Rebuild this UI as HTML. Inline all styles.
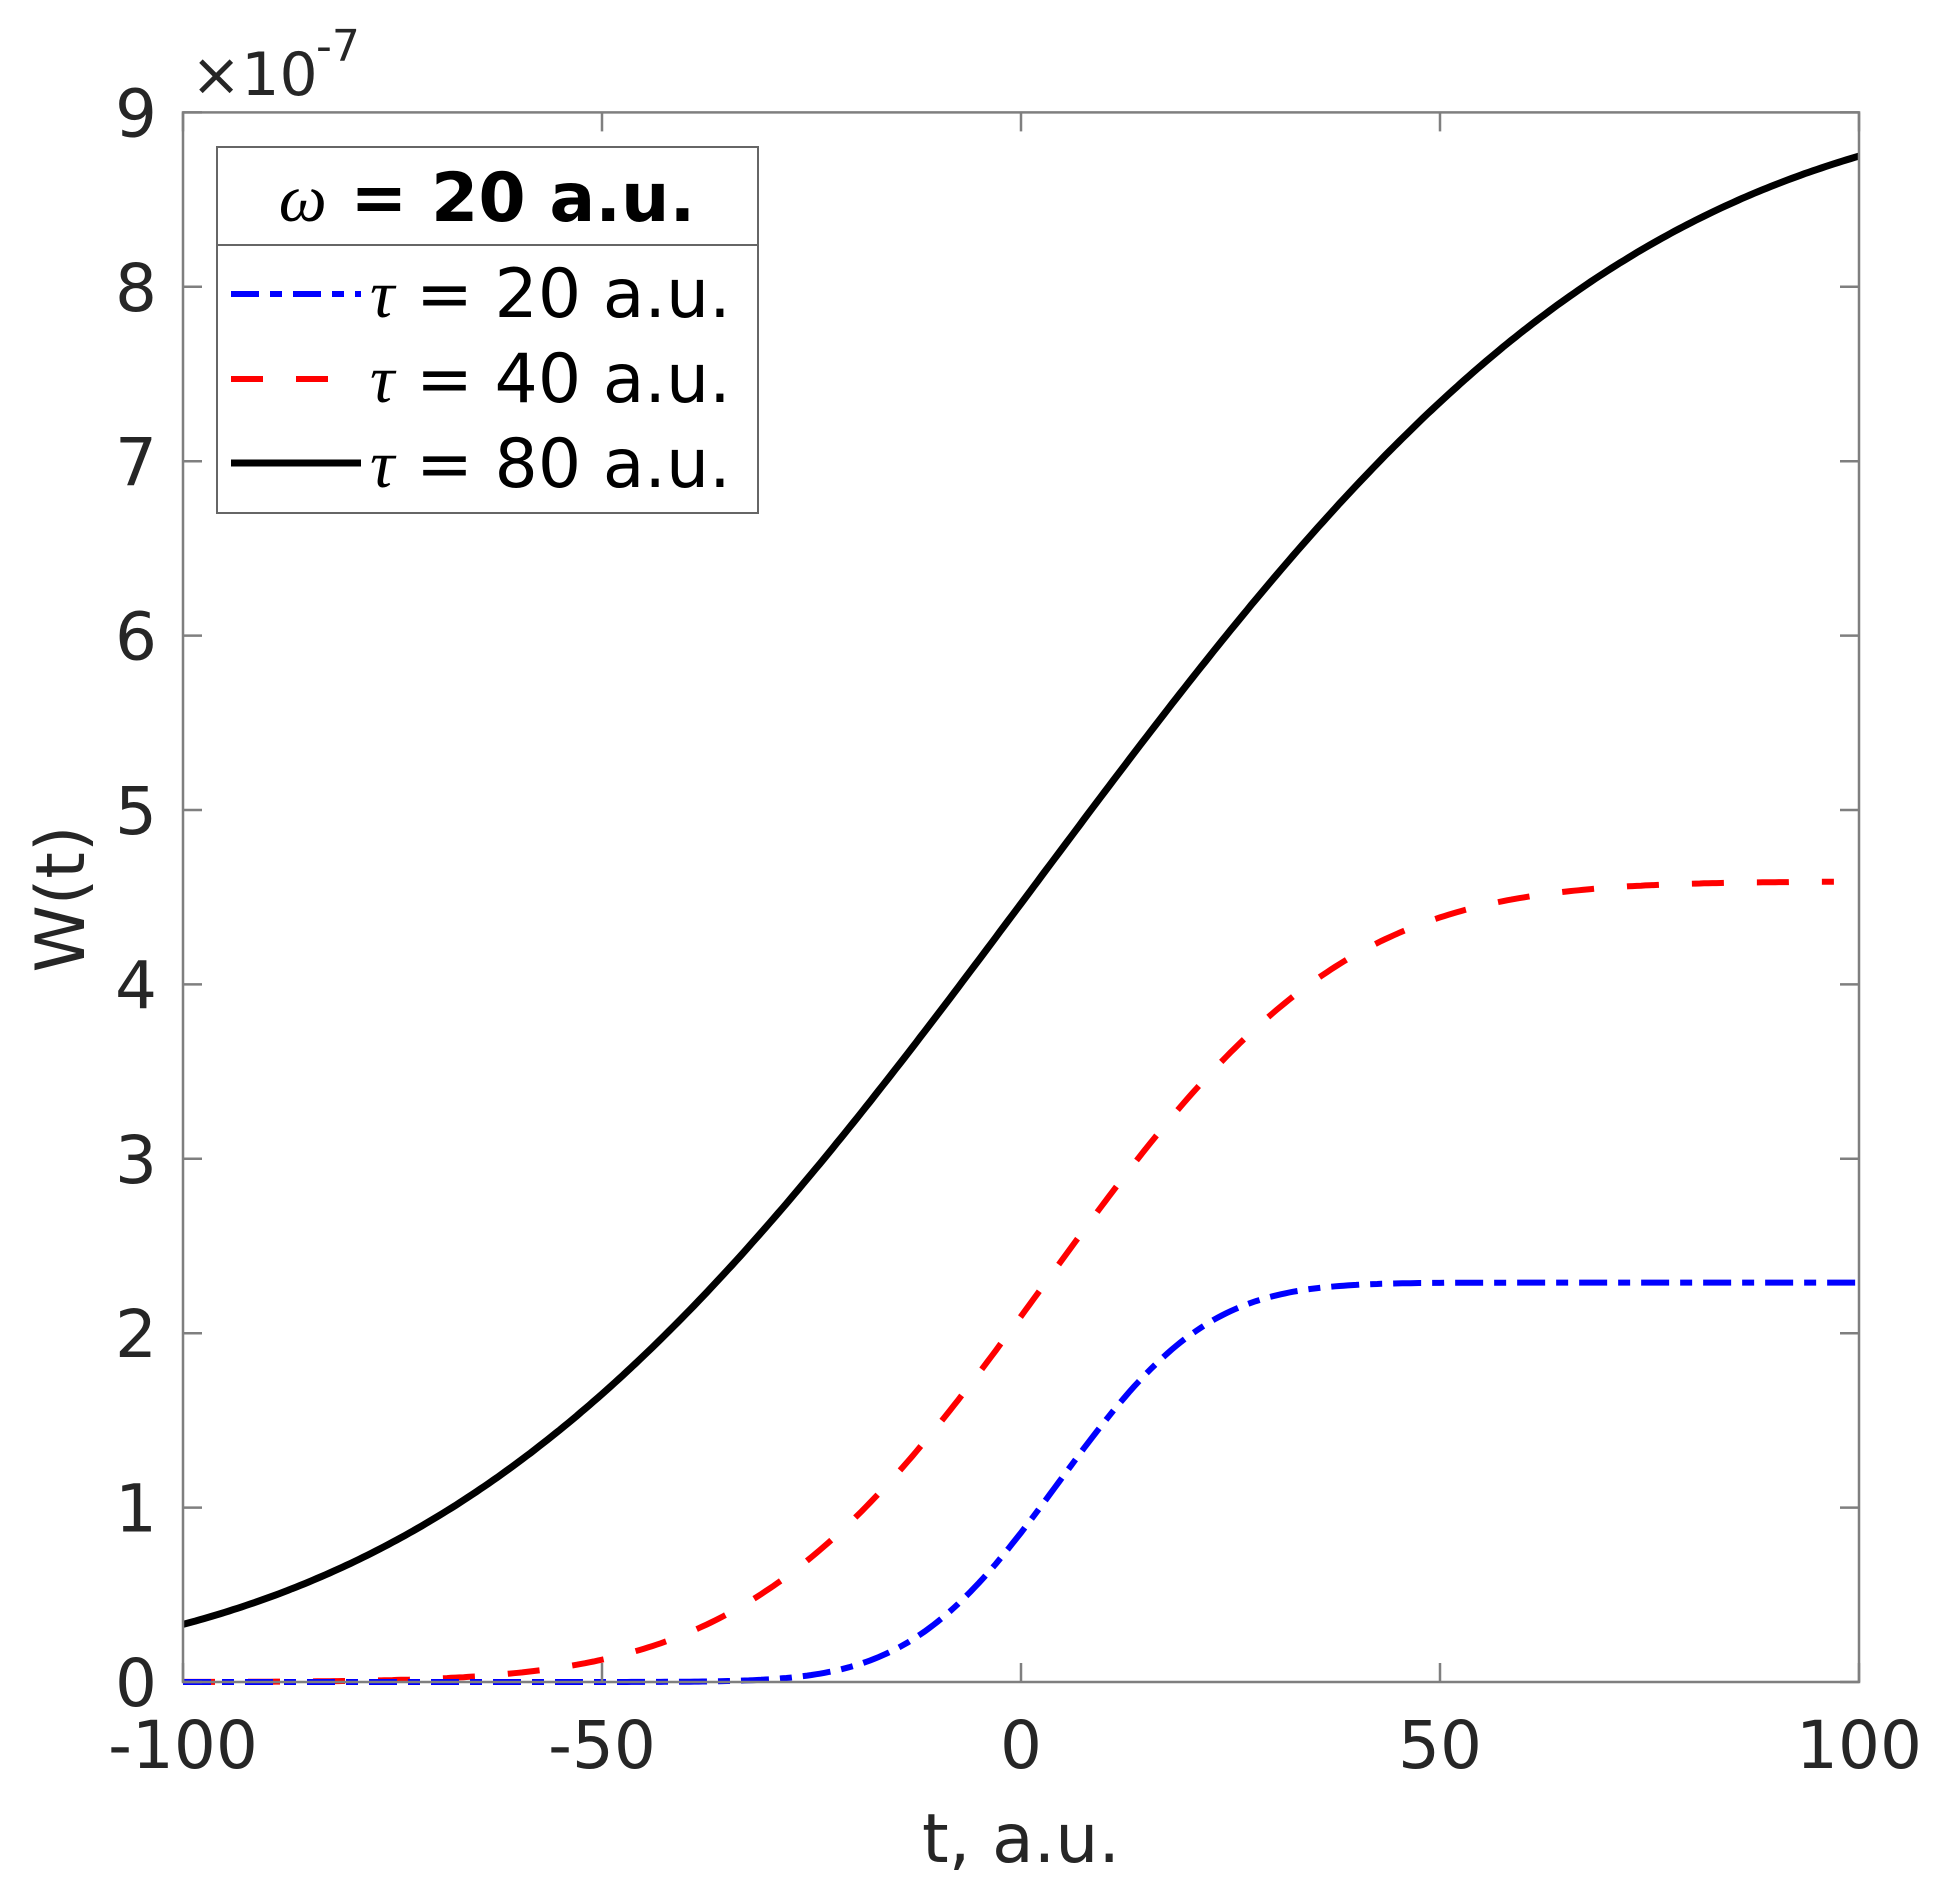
<!DOCTYPE html>
<html><head><meta charset="utf-8"><style>
html,body{margin:0;padding:0;background:#fff;}
svg{display:block;font-family:"DejaVu Sans","Liberation Sans",sans-serif;}
</style></head><body>
<svg id="s" width="1947" height="1886" xmlns="http://www.w3.org/2000/svg">
<rect width="1947" height="1886" fill="#fff"/>
<g id="curves"></g>
<g id="axes" stroke="#7f7f7f" stroke-width="2.5" fill="none"></g>
<g fill="#262626" font-size="66" id="labels"></g>
<text x="191" y="95" font-size="60" fill="#262626">×10</text>
<text x="316" y="61" font-size="44" fill="#262626">-7</text>
<text x="1021" y="1862" font-size="68" fill="#262626" text-anchor="middle">t, a.u.</text>
<text transform="translate(84,899) rotate(-90)" font-size="68" fill="#262626" text-anchor="middle">W(t)</text>
<g>
<rect x="217" y="147" width="541" height="366" fill="#fff" stroke="#666" stroke-width="2"/>
<line x1="217" y1="245" x2="758" y2="245" stroke="#666" stroke-width="2"/>
<text x="487" y="221" font-size="68" text-anchor="middle" fill="#000"><tspan font-family="Liberation Serif,serif" font-style="italic">ω</tspan><tspan font-weight="bold"> = 20 a.u.</tspan></text>
<line x1="231" y1="294" x2="361" y2="294" stroke="#0000ff" stroke-width="6" stroke-dasharray="28,11,12,11"/>
<line x1="231" y1="379" x2="361" y2="379" stroke="#ff0000" stroke-width="6" stroke-dasharray="32,33"/>
<line x1="231" y1="463" x2="361" y2="463" stroke="#000" stroke-width="7"/>
<g font-size="68" fill="#000">
<text x="370" y="317"><tspan font-family="Liberation Serif,serif" font-style="italic">τ</tspan> = 20 a.u.</text>
<text x="370" y="402"><tspan font-family="Liberation Serif,serif" font-style="italic">τ</tspan> = 40 a.u.</text>
<text x="370" y="487"><tspan font-family="Liberation Serif,serif" font-style="italic">τ</tspan> = 80 a.u.</text>
</g>
</g>
</svg>
<script>
(function(){
var NS="http://www.w3.org/2000/svg";
var L=183,R=1859,T=112.4,B=1682;
function X(t){return L+(t+100)/200*(R-L);}
function Y(v){return B-v*(B-T)/9;}
function erf(x){var s=x<0?-1:1;x=Math.abs(x);var t=1/(1+0.3275911*x);
var y=1-(((((1.061405429*t-1.453152027)*t)+1.421413741)*t-0.284496736)*t+0.254829592)*t*Math.exp(-x*x);return s*y;}
function Phi(z){return 0.5*(1+erf(z/Math.SQRT2));}
function path(A,c,s,t1){var d="";for(var t=-100;t<=t1;t+=0.5){d+=(d?"L":"M")+X(t).toFixed(1)+","+Y(A*Phi((t-c)/s)).toFixed(1);}return d;}
var g=document.getElementById("curves");
function add(d,col,w,da){var p=document.createElementNS(NS,"path");p.setAttribute("d",d);p.setAttribute("fill","none");p.setAttribute("stroke",col);p.setAttribute("stroke-width",w);if(da)p.setAttribute("stroke-dasharray",da);g.appendChild(p);}
add(path(9.12,1.5,56.5,100),"#000",7,null);
add(path(4.59,3,27.7,97),"#ff0000",6,"32,33");
add(path(2.29,4.5,14,100),"#0000ff",6,"28,11,12,11");
var a=document.getElementById("axes");
function ln(x1,y1,x2,y2){var l=document.createElementNS(NS,"line");l.setAttribute("x1",x1);l.setAttribute("y1",y1);l.setAttribute("x2",x2);l.setAttribute("y2",y2);a.appendChild(l);}
var r=document.createElementNS(NS,"rect");r.setAttribute("x",L);r.setAttribute("y",T);r.setAttribute("width",R-L);r.setAttribute("height",B-T);a.appendChild(r);
var lb=document.getElementById("labels");
function tx(x,y,s,anc){var e=document.createElementNS(NS,"text");e.setAttribute("x",x);e.setAttribute("y",y);e.setAttribute("text-anchor",anc);e.textContent=s;lb.appendChild(e);}
for(var v=0;v<=9;v++){var y=Y(v);ln(L,y,L+19,y);ln(R,y,R-19,y);tx(157,y+24,String(v),"end");}
[-100,-50,0,50,100].forEach(function(t){var x=X(t);ln(x,B,x,B-19);ln(x,T,x,T+19);tx(x,1768,String(t),"middle");});
})();
</script>
</body></html>
